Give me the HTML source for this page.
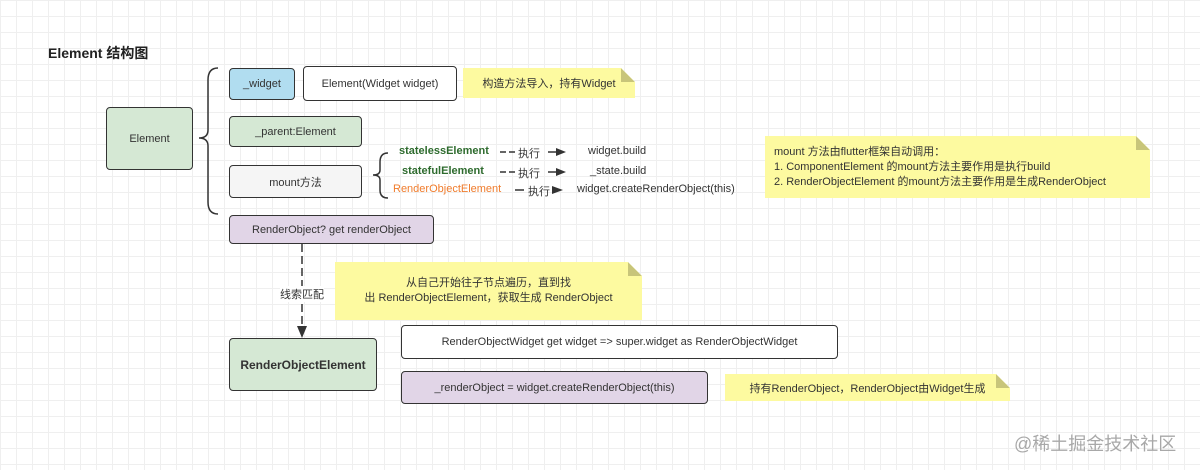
<!DOCTYPE html>
<html><head><meta charset="utf-8"><style>
body{margin:0;width:1200px;height:470px;overflow:hidden;position:relative;font-family:"Liberation Sans","Noto Sans CJK SC",sans-serif;font-size:11px;color:#333;
background-color:#fff;background-image:linear-gradient(#efefef 1px,transparent 1px),linear-gradient(90deg,#efefef 1px,transparent 1px);background-size:16px 16px;}
.b{position:absolute;box-sizing:border-box;border:1.5px solid #333;border-radius:4px;display:flex;align-items:center;justify-content:center;text-align:center}
.g{background:#d5e8d4}.c{background:#b1ddf0}.w{background:#fff}.p{background:#e1d5e7}.s{background:#f5f5f5}
.n{position:absolute;background:#fdfaa0;display:flex;align-items:center;justify-content:center;text-align:center;clip-path:polygon(0 0,calc(100% - 14px) 0,100% 14px,100% 100%,0 100%)}
.n::after{content:"";position:absolute;right:0;top:0;width:14px;height:14px;background:#c8c57a;clip-path:polygon(0 0,0 100%,100% 100%)}
.t{position:absolute;white-space:nowrap}
</style></head><body>
<div class="t" style="left:48px;top:43px;font-size:14px;font-weight:bold;color:#222">Element 结构图</div>
<div class="b g" style="left:106px;top:107px;width:87px;height:63px">Element</div>
<svg style="position:absolute;left:0;top:0" width="1200" height="470">
<path d="M218 68 Q208 68 208 80 L208 130 Q208 138 199 138 Q208 138 208 146 L208 202 Q208 214 218 214" fill="none" stroke="#333" stroke-width="1.5"/>
<path d="M388 153 Q380 153 380 162 L380 170 Q380 175 373 175 Q380 175 380 180 L380 190 Q380 198 388 198" fill="none" stroke="#333" stroke-width="1.5"/>
<g stroke="#333" stroke-width="1.5"><line x1="500" y1="152" x2="506" y2="152"/><line x1="509" y1="152" x2="515" y2="152"/>
<line x1="500" y1="172" x2="506" y2="172"/><line x1="509" y1="172" x2="515" y2="172"/>
<line x1="515" y1="190" x2="524" y2="190"/>
<line x1="548" y1="152" x2="556" y2="152"/><line x1="548" y1="172" x2="556" y2="172"/>
<line x1="302" y1="244" x2="302" y2="327" stroke-dasharray="8,4"/></g>
<g fill="#333"><polygon points="556,148 566,152 556,156"/><polygon points="556,168 566,172 556,176"/><polygon points="552,186 563,190 552,194"/><polygon points="297,326 302,338 307,326"/></g>
</svg>
<div class="b c" style="left:229px;top:68px;width:66px;height:32px">_widget</div>
<div class="b w" style="left:303px;top:66px;width:154px;height:35px">Element(Widget widget)</div>
<div class="n" style="left:463px;top:68px;width:172px;height:30px">构造方法导入，持有Widget</div>
<div class="b g" style="left:229px;top:116px;width:133px;height:31px">_parent:Element</div>
<div class="b s" style="left:229px;top:165px;width:133px;height:33px">mount方法</div>
<div class="t" style="left:399px;top:145px;font-weight:bold;color:#2e6b2e">statelessElement</div>
<div class="t" style="left:402px;top:165px;font-weight:bold;color:#2e6b2e">statefulElement</div>
<div class="t" style="left:393px;top:183px;color:#f07c2c">RenderObjectElement</div>
<div class="t" style="left:518px;top:145px">执行</div>
<div class="t" style="left:518px;top:165px">执行</div>
<div class="t" style="left:528px;top:183px">执行</div>
<div class="t" style="left:588px;top:145px">widget.build</div>
<div class="t" style="left:590px;top:165px">_state.build</div>
<div class="t" style="left:577px;top:183px">widget.createRenderObject(this)</div>
<div class="n" style="left:765px;top:136px;width:385px;height:62px;justify-content:flex-start;text-align:left;padding-left:9px;box-sizing:border-box;line-height:15px">mount 方法由flutter框架自动调用：<br>1. ComponentElement 的mount方法主要作用是执行build<br>2. RenderObjectElement 的mount方法主要作用是生成RenderObject</div>
<div class="b p" style="left:229px;top:215px;width:205px;height:29px">RenderObject? get renderObject</div>
<div class="t" style="left:280px;top:286px;background:#fff">线索匹配</div>
<div class="n" style="left:335px;top:262px;width:307px;height:58px;line-height:15px">从自己开始往子节点遍历，直到找<br>出 RenderObjectElement，获取生成 RenderObject</div>
<div class="b g" style="left:229px;top:338px;width:148px;height:53px;font-weight:bold;font-size:12px">RenderObjectElement</div>
<div class="b w" style="left:401px;top:325px;width:437px;height:34px">RenderObjectWidget get widget =&gt; super.widget as RenderObjectWidget</div>
<div class="b p" style="left:401px;top:371px;width:307px;height:33px">_renderObject = widget.createRenderObject(this)</div>
<div class="n" style="left:725px;top:374px;width:285px;height:27px">持有RenderObject，RenderObject由Widget生成</div>
<div class="t" style="left:1014px;top:430px;font-size:18px;color:#a8a8a8">@稀土掘金技术社区</div>
</body></html>
